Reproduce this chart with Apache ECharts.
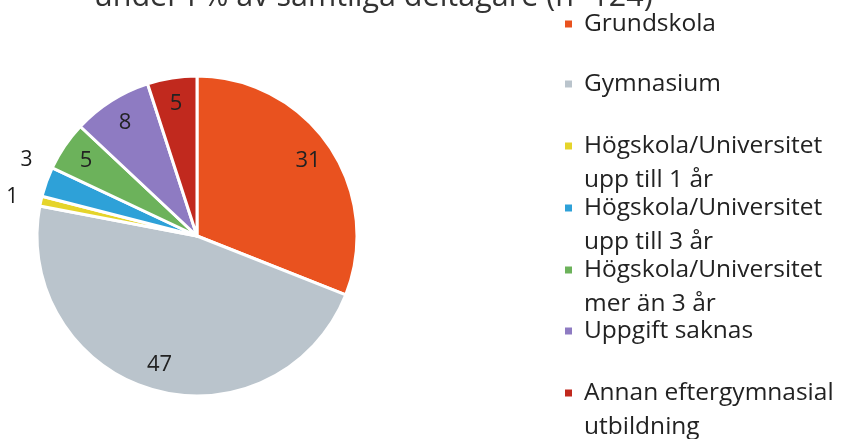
<!DOCTYPE html>
<html>
<head>
<meta charset="utf-8">
<script src="https://cdn.jsdelivr.net/npm/echarts@6/dist/echarts.min.js"></script>
<style>
  html, body { margin: 0; padding: 0; background: #fff; }
  #chart { width: 841px; height: 439px; }
</style>
</head>
<body>
<div id="chart"></div>
<script>
// utbildningsnivå, andel i %
const categories = [
  "Grundskola",
  "Gymnasium",
  "Högskola/Universitet\nupp till 1 år",
  "Högskola/Universitet\nupp till 3 år",
  "Högskola/Universitet\nmer än 3 år",
  "Uppgift saknas",
  "Annan eftergymnasial\nutbildning"
];
const values = [31, 47, 1, 3, 5, 8, 5];
const colors = ["#E9521F", "#BAC4CC", "#E5D42B", "#2EA1D8", "#6CB25B", "#8E7BC2", "#C1291E"];
// vilka etiketter som står utanför cirkeln
const outsideLabel = [false, false, true, true, false, false, false];

const FONT = "Open Sans";
const center = [197, 236];
const R = 160;

const chart = echarts.init(document.getElementById("chart"));

const pieData = categories.map((name, i) => ({
  name: name,
  value: values[i],
  itemStyle: { color: colors[i] }
}));

// en legend per post så att radavståndet blir som i förlagan
const legendCenters = [24, 84, 146, 208, 270, 331, 393];
const LH = 34;
const legends = categories.map((name, i) => {
  const twoLines = name.indexOf("\n") >= 0;
  return {
    data: [name],
    left: 563,
    top: legendCenters[i] - (twoLines ? LH * 1.5 : LH / 2),
    padding: 0,
    icon: "rect",
    itemWidth: 9,
    itemHeight: 9,
    selectedMode: false,
    // tom rad överst så att första raden hamnar i höjd med ikonen
    formatter: n => (n.indexOf("\n") >= 0 ? " \n" + n : n),
    textStyle: {
      fontFamily: FONT,
      fontSize: 24.5,
      color: "#222",
      lineHeight: LH,
      padding: [0, 0, 0, 6]
    }
  };
});

chart.setOption({
  animation: false,
  title: {
    text: "under i % av samtliga deltagare (n=124)",
    left: 89,
    top: -23,
    textStyle: { fontFamily: FONT, fontSize: 30.5, fontWeight: "normal", color: "#333" }
  },
  legend: legends,
  series: [
    {
      type: "pie",
      center: center,
      radius: R,
      startAngle: 90,
      clockwise: true,
      avoidLabelOverlap: false,
      itemStyle: { borderColor: "#fff", borderWidth: 3 },
      label: { show: false },
      labelLine: { show: false },
      labelLayout: p => (p.dataIndex === 3 ? { dx: 8, dy: -16 } : {}),
      data: pieData.map((d, i) => ({
        ...d,
        label: outsideLabel[i]
          ? { show: true, position: "outside", formatter: "{c}", fontFamily: FONT, fontSize: 21, color: "#1a1a1a" }
          : { show: false },
        labelLine: { show: false, length: 18, length2: 0 }
      }))
    },
    {
      // osynlig ring som bara bär etiketterna inne i tårtbitarna
      type: "pie",
      center: center,
      radius: [R * 0.64, R],
      startAngle: 90,
      clockwise: true,
      silent: true,
      avoidLabelOverlap: false,
      itemStyle: { color: "rgba(0,0,0,0)" },
      label: {
        position: "inside",
        formatter: "{c}",
        fontFamily: FONT,
        fontSize: 22,
        color: "#222"
      },
      labelLine: { show: false },
      data: values.map((v, i) => ({
        name: categories[i],
        value: v,
        label: { show: !outsideLabel[i] }
      }))
    }
  ]
});
</script>
</body>
</html>
